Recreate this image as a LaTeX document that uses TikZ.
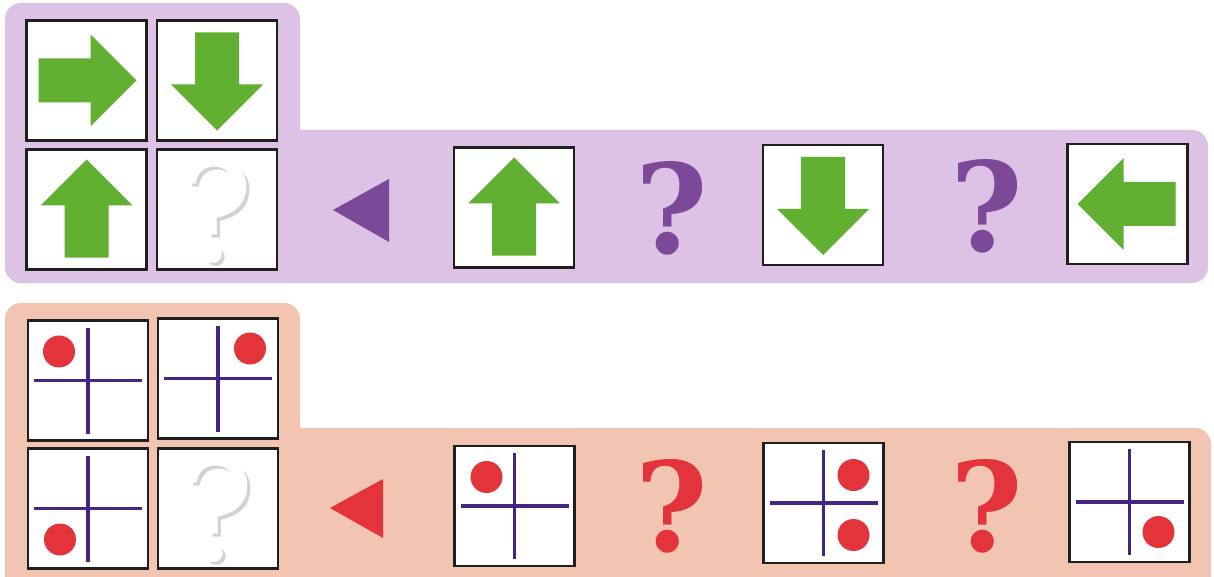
\documentclass[tikz,border=0pt]{standalone}
\usepackage{tikz}
\usepackage{fontspec}
\newfontfamily\qfont{DejaVu Serif}
\definecolor{lilacbg}{RGB}{222,194,229}
\definecolor{salmonbg}{RGB}{242,196,178}
\definecolor{agreen}{RGB}{98,176,50}
\definecolor{mpurple}{RGB}{124,72,152}
\definecolor{mred}{RGB}{226,52,58}
\definecolor{crossc}{RGB}{68,38,130}
\definecolor{ghostshadow}{RGB}{210,210,210}
\newcommand{\ghostmark}{\makebox[0pt][l]{\hspace{3pt}\raisebox{-3pt}{\color{ghostshadow}?}}\color{white}?}
\tikzset{
  tilebox/.style={draw=black!88, line width=2.4pt, fill=white, minimum size=120pt, inner sep=0pt},
  qmark/.style={font=\qfont\bfseries\fontsize{124}{124}\selectfont, inner sep=0pt},
  ghostq/.style={font=\qfont\fontsize{136}{136}\selectfont, inner sep=0pt},
  garrow/.pic={\fill[agreen] (-48,-22) -- (4,-22) -- (4,-46) -- (50,0) -- (4,46) -- (4,22) -- (-48,22) -- cycle;},
  crossp/.pic={\draw[crossc, line width=3.6pt] (0,-53) -- (0,53) (-54,0) -- (54,0);},
  rdot/.style={fill=mred}
}
\begin{document}
\begin{tikzpicture}[x=1pt,y=-1pt]
\useasboundingbox (0,0) rectangle (1214,577);
\fill[white] (0,0) rectangle (1214,577);
% panels
\fill[lilacbg, rounded corners=16pt] (5,3) rectangle (300,283);
\fill[lilacbg, rounded corners=16pt] (5,130) rectangle (1208,283);
\begin{scope}
\clip (0,290) rectangle (1214,577);
\fill[salmonbg, rounded corners=16pt] (5,303) rectangle (300,620);
\fill[salmonbg, rounded corners=16pt] (5,428) rectangle (1211,620);
\end{scope}
% top tiles
\node[tilebox] (t11) at (86.5,80.5) {};
\node[tilebox] (t12) at (217,80.5) {};
\node[tilebox] (t21) at (86.5,209.5) {};
\node[tilebox] (t22) at (217,209.5) {};
\node[tilebox] (u1) at (514,207.5) {};
\node[tilebox] (u2) at (823,205) {};
\node[tilebox] (u3) at (1127.5,204) {};
\pic at (t11.center) {garrow};
\pic[rotate=-90] at (t12.center) {garrow};
\pic[rotate=90] at (t21.center) {garrow};
\pic[rotate=90] at (u1.center) {garrow};
\pic[rotate=-90] at (u2.center) {garrow};
\pic[rotate=180] at (u3.center) {garrow};
\node[ghostq] (g1) at ([yshift=-4pt]t22.center) {\ghostmark};
% purple markers
\fill[mpurple] (333,210) -- (389,179) -- (389,242) -- cycle;
\node[qmark, text=mpurple] (q1) at (672,208) {?};
\node[qmark, text=mpurple] (q2) at (987,206) {?};
% bottom tiles
\node[tilebox] (b11) at (88,380.5) {};
\node[tilebox] (b12) at (218,378.5) {};
\node[tilebox] (b21) at (88,508.5) {};
\node[tilebox] (b22) at (218,508.5) {};
\node[tilebox] (bA) at (514.5,506) {};
\node[tilebox] (bB) at (823.5,503) {};
\node[tilebox] (bC) at (1129.5,502) {};
\foreach \t in {b11,b12,b21,bA,bB,bC} {\pic at (\t.center) {crossp};}
\fill[rdot] ([shift={(-29,-29)}]b11.center) circle (16pt);
\fill[rdot] ([shift={(32,-30)}]b12.center) circle (16pt);
\fill[rdot] ([shift={(-28,31)}]b21.center) circle (16pt);
\fill[rdot] ([shift={(-28,-29)}]bA.center) circle (16pt);
\fill[rdot] ([shift={(30,-28)}]bB.center) circle (16pt);
\fill[rdot] ([shift={(30,32)}]bB.center) circle (16pt);
\fill[rdot] ([shift={(29,30)}]bC.center) circle (16pt);
\node[ghostq] (g2) at ([yshift=-4pt]b22.center) {\ghostmark};
% red markers
\fill[mred] (330,508) -- (383,479) -- (383,538) -- cycle;
\node[qmark, text=mred] (q3) at (672,506) {?};
\node[qmark, text=mred] (q4) at (987,506) {?};
\end{tikzpicture}
\end{document}
